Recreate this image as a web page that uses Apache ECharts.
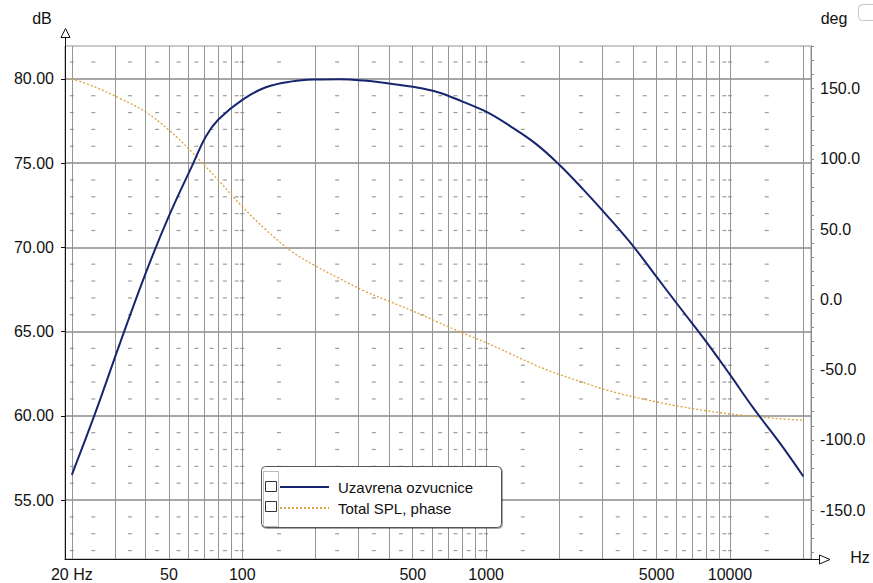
<!DOCTYPE html>
<html><head><meta charset="utf-8">
<script src="https://cdn.jsdelivr.net/npm/echarts@6/dist/echarts.min.js"></script>
<style>html,body{margin:0;padding:0;background:#fff}#c{width:873px;height:583px}</style>
</head><body><div id="c"></div>
<script>
// ---- data ----
const splFreq = [20, 25, 31.5, 40, 50, 63, 71, 80, 100, 125, 160, 200, 250, 315, 400, 500, 630, 800, 1000, 1250, 1600, 2000, 2500, 3150, 4000, 5000, 6300, 8000, 10000, 12500, 16000, 20000];
const splDb   = [56.5, 60.2, 64.3, 68.4, 71.85, 75.0, 76.6, 77.6, 78.75, 79.5, 79.85, 79.96, 79.98, 79.9, 79.72, 79.53, 79.22, 78.65, 78.05, 77.21, 76.14, 74.89, 73.44, 71.84, 70.09, 68.24, 66.34, 64.39, 62.44, 60.44, 58.39, 56.4];
const phaseFreq = [20, 25, 31.5, 40, 50, 63, 80, 100, 125, 160, 200, 250, 315, 400, 500, 630, 800, 1000, 1250, 1600, 2000, 2500, 3150, 4000, 5000, 6300, 8000, 10000, 12500, 16000, 20000];
const phaseDeg  = [157, 151, 143, 133.5, 120.5, 103.7, 84.5, 66, 49.5, 33.9, 23.7, 14.9, 6.1, -1.4, -8.3, -16, -23.9, -30.8, -38.5, -47, -53.5, -59.1, -64.8, -69.3, -73, -76.4, -79.3, -81.6, -83.3, -85, -86];
const seriesNames = ['Uzavrena ozvucnice', 'Total SPL, phase'];

// ---- axes / ticks ----
const gridFreqs = [20,30,40,50,60,70,80,90,100,200,300,400,500,600,700,800,900,1000,2000,3000,4000,5000,6000,7000,8000,9000,10000,20000];
const xLabelFreqs = [20, 50, 100, 500, 1000, 5000, 10000];
const dbTicks = [55, 60, 65, 70, 75, 80];
const dbMinor = [52,53,54,56,57,58,59,61,62,63,64,66,67,68,69,71,72,73,74,76,77,78,79,81];
const degTicks = [-150, -100, -50, 0, 50, 100, 150];
const degMinorTicks = [-180,-170,-160,-150,-140,-130,-120,-110,-100,-90,-80,-70,-60,-50,-40,-30,-20,-10,0,10,20,30,40,50,60,70,80,90,100,110,120,130,140,150,160,170,180];
const decadeFreqs = [20, 100, 1000, 10000];

const FONT = "'Liberation Sans', Arial, sans-serif";

// minor grid dashes: at log-midpoints between vertical grid lines, on each minor dB row
const dashX = [];
for (let i = 0; i < gridFreqs.length - 1; i++) dashX.push(Math.sqrt(gridFreqs[i] * gridFreqs[i + 1]));
decadeFreqs.forEach(f => dashX.push(f));
const dashData = [];
dbMinor.forEach(d => dashX.forEach(f => dashData.push([f, d])));

const splData = splFreq.map((f, i) => [f, splDb[i]]);
const phaseData = phaseFreq.map((f, i) => [f, phaseDeg[i]]);

const chart = echarts.init(document.getElementById('c'), null, {renderer: 'svg', width: 873, height: 583});
chart.setOption({
  animation: false,
  backgroundColor: '#fff',
  textStyle: {fontFamily: FONT},
  grid: {left: 65, right: 62, top: 46, bottom: 24, show: true, borderColor: '#959595', borderWidth: 1},
  legend: {
    show: true, orient: 'vertical', left: 279, top: 479.5, padding: 0, itemGap: 6,
    itemWidth: 49, itemHeight: 14, selectedMode: false, z: 200,
    data: seriesNames,
    itemStyle: {opacity: 0},
    textStyle: {fontSize: 15, fontFamily: FONT, color: '#111', padding: [0, 0, 0, 4]}
  },
  xAxis: {
    type: 'log', logBase: 10, min: 18.75, max: 21490,
    axisLine: {show: true, onZero: false, lineStyle: {color: '#111', width: 1}},
    axisTick: {show: false, customValues: gridFreqs},
    axisLabel: {customValues: xLabelFreqs, formatter: v => (Math.round(v) === 20 ? '20 Hz' : String(Math.round(v))),
      margin: 7, fontSize: 16, color: '#111', fontFamily: FONT},
    splitLine: {show: true, lineStyle: {color: '#959595', width: 1}},
    minorTick: {show: false}, minorSplitLine: {show: false}
  },
  yAxis: [
    {
      type: 'value', position: 'left', min: 51.5, max: 81.95,
      axisLine: {show: true, lineStyle: {color: '#111', width: 1}},
      axisTick: {show: true, length: 4, customValues: dbTicks, lineStyle: {color: '#111'}},
      axisLabel: {customValues: dbTicks, formatter: v => Number(v).toFixed(2), margin: 11, fontSize: 16, color: '#111', fontFamily: FONT},
      splitLine: {show: true, lineStyle: {color: '#8a8a8a', width: 1.5}}
    },
    {
      type: 'value', position: 'right', min: -184.8, max: 180.3,
      axisLine: {show: true, lineStyle: {color: '#8a8a8a', width: 1}},
      axisTick: {show: true, length: 3, customValues: degMinorTicks, lineStyle: {color: '#8a8a8a'}},
      axisLabel: {customValues: degTicks, formatter: v => Number(v).toFixed(1), margin: 9, fontSize: 16, color: '#111', fontFamily: FONT},
      splitLine: {show: false}
    }
  ],
  series: [
    {
      type: 'scatter', name: 'grid-dashes', data: dashData, xAxisIndex: 0, yAxisIndex: 0,
      symbol: 'rect', symbolSize: [4, 1.2], silent: true, z: 1,
      itemStyle: {color: '#858585'}, emphasis: {disabled: true}
    },
    {
      type: 'line', name: seriesNames[0], data: splData, xAxisIndex: 0, yAxisIndex: 0,
      symbol: 'none', smooth: 0.4, z: 5,
      lineStyle: {color: '#17256f', width: 2}, itemStyle: {color: '#17256f'}
    },
    {
      type: 'line', name: seriesNames[1], data: phaseData, xAxisIndex: 0, yAxisIndex: 1,
      symbol: 'none', smooth: 0.4, z: 4,
      lineStyle: {color: '#d9a23a', width: 1.3, type: [2, 2]}, itemStyle: {color: '#d9a23a'}
    }
  ],
  graphic: [
    {type: 'line', shape: {x1: 65.5, y1: 37, x2: 65.5, y2: 46}, style: {stroke: '#111', lineWidth: 1}, z: 50},
    {type: 'polygon', shape: {points: [[65.5, 28.5], [61, 37.5], [70, 37.5]]}, style: {fill: '#fff', stroke: '#111', lineWidth: 1}, z: 50},
    {type: 'line', shape: {x1: 811, y1: 559.5, x2: 819.5, y2: 559.5}, style: {stroke: '#111', lineWidth: 1}, z: 50},
    {type: 'polygon', shape: {points: [[830, 559.5], [819.5, 555], [819.5, 564]]}, style: {fill: '#fff', stroke: '#111', lineWidth: 1}, z: 50},
    {type: 'text', x: 42, y: 18, style: {text: 'dB', fontSize: 16, fontFamily: FONT, fill: '#111', align: 'center', verticalAlign: 'middle'}, z: 50},
    {type: 'text', x: 834, y: 18, style: {text: 'deg', fontSize: 16, fontFamily: FONT, fill: '#111', align: 'center', verticalAlign: 'middle'}, z: 50},
    {type: 'text', x: 860, y: 557, style: {text: 'Hz', fontSize: 16, fontFamily: FONT, fill: '#111', align: 'center', verticalAlign: 'middle'}, z: 50},
    {type: 'rect', shape: {x: 858.5, y: 4.5, width: 40, height: 16, r: 4}, style: {fill: 'none', stroke: '#c4c4c4', lineWidth: 1}, z: 50},
    {type: 'rect', shape: {x: 261.5, y: 466.5, width: 240, height: 61, r: 4},
      style: {fill: '#fff', stroke: '#555', lineWidth: 1, shadowColor: 'rgba(0,0,0,0.35)', shadowOffsetX: 1, shadowOffsetY: 1, shadowBlur: 1}, z: 100},
    {type: 'rect', shape: {x: 263.5, y: 471.5, width: 15, height: 55}, style: {fill: 'none', stroke: '#777', lineWidth: 1, lineDash: [1, 1]}, z: 101},
    {type: 'rect', shape: {x: 265.5, y: 481.5, width: 11, height: 10}, style: {fill: '#fff', stroke: '#333', lineWidth: 1}, z: 102},
    {type: 'rect', shape: {x: 265.5, y: 501.5, width: 11, height: 10}, style: {fill: '#fff', stroke: '#333', lineWidth: 1}, z: 102}
  ]
});
</script>
</body></html>
